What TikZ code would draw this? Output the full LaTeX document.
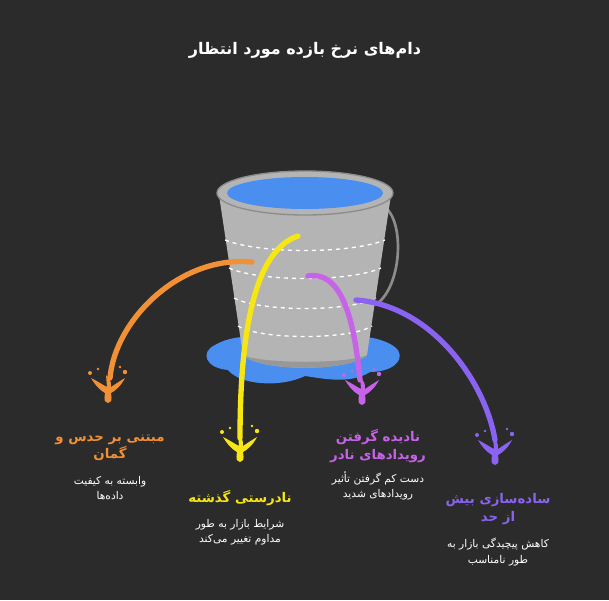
\documentclass[tikz,border=0pt]{standalone}
\usepackage{fontspec}
\TeXXeTstate=1
\newfontfamily\arabicfont[Script=Arabic]{DejaVu Sans}
\definecolor{bg}{HTML}{2B2B2B}
\definecolor{wblue}{HTML}{4A8FF0}
\definecolor{bgray}{HTML}{B4B4B4}
\definecolor{bdark}{HTML}{8C8C8C}
\definecolor{corange}{HTML}{F29035}
\definecolor{cyellow}{HTML}{F5E614}
\definecolor{cmag}{HTML}{C763E8}
\definecolor{cviol}{HTML}{8A63F2}
\tikzset{
 ttl/.style={text=white,font=\arabicfont\bfseries\fontsize{12}{14}\selectfont,align=center},
 head/.style={font=\arabicfont\bfseries\fontsize{10}{13}\selectfont,align=center},
 desc/.style={text=white,font=\arabicfont\fontsize{8}{11.5}\selectfont,align=center},
 stream/.style={line width=4pt,line cap=round},
 splash/.pic={
  \fill (-3,0) .. controls (-10,-4) and (-14,-10) .. (-17,-15) .. controls (-9,-11) and (-5,-8) .. (-1,-6)
   .. controls (-1,-12) .. (-2,-18) .. controls (3,-12) .. (3,-6) .. controls (9,-10) and (12,-12) .. (17,-15)
   .. controls (13,-7) and (7,-2) .. (3,0) .. controls (4,8) .. (0,10) .. controls (-4,8) .. (-3,0) -- cycle;
  \fill (-18,-20) circle (2); \fill (17,-21) circle (2.2); \fill (12,-26) circle (1.3); \fill (-10,-24) circle (1.3);
 }
}
\begin{document}
\begin{tikzpicture}[x=0.75pt,y=-0.75pt]
\useasboundingbox (0,0) rectangle (609,600);
\fill[bg] (0,0) rectangle (609,600);
\node[ttl] (title) at (305,50) {\beginR دام‌های نرخ بازده مورد انتظار\endR};
% puddle
\fill[wblue] (215,345) .. controls (240,330) and (280,338) .. (305,345) .. controls (340,330) and (385,335) .. (398,350)
 .. controls (405,362) and (390,372) .. (370,372) .. controls (350,385) and (320,378) .. (305,376)
 .. controls (280,388) and (240,385) .. (228,370) .. controls (205,368) and (200,352) .. (215,345) -- cycle;
% handle
\draw[bdark,line width=2pt] (388,210) .. controls (405,230) and (400,290) .. (375,305);
% body
\fill[bgray] (219,195) -- (243,355) .. controls (260,372) and (350,372) .. (367,355) -- (391,195) -- cycle;
\fill[bdark!70!bgray] (243,355) .. controls (260,372) and (350,372) .. (367,355) .. controls (350,364) and (260,364) .. (243,355);
\foreach \y/\a/\b in {240/225/385,268/229/381,298/234/376,326/238/372}{
 \draw[white,dashed,line width=1pt] (\a,\y) .. controls (260,\y+14) and (350,\y+14) .. (\b,\y);
}
% rim
\fill[bgray] (305,193) ellipse (88 and 22);
\draw[bdark,line width=1pt] (305,193) ellipse (88 and 22);
\fill[wblue] (305,193) ellipse (78 and 16);
% streams
\draw[stream,corange] (252,262) .. controls (180,255) and (115,320) .. (110,378);
\draw[stream,cyellow] (298,236) .. controls (255,250) and (240,330) .. (240,438);
\draw[stream,cmag] (308,276) .. controls (345,270) and (355,330) .. (360,380);
\draw[stream,cviol] (356,300) .. controls (430,305) and (485,380) .. (495,440);
\pic[corange] at (108,393) {splash};
\pic[cyellow] at (240,452) {splash};
\pic[cmag] at (362,395) {splash};
\pic[cviol] at (495,455) {splash};
% labels
\node[head,text=corange] (h1) at (110,448) {\beginR مبتنی بر حدس و\endR\\\beginR گمان\endR};
\node[desc] (d1) at (110,488) {\beginR وابسته به کیفیت\endR\\\beginR داده‌ها\endR};
\node[head,text=cyellow] (h2) at (240,498) {\beginR نادرستی گذشته\endR};
\node[desc] (d2) at (240,532) {\beginR شرایط بازار به طور\endR\\\beginR مداوم تغییر می‌کند\endR};
\node[head,text=cmag] (h3) at (378,446) {\beginR نادیده گرفتن\endR\\\beginR رویدادهای نادر\endR};
\node[desc] (d3) at (378,486) {\beginR دست کم گرفتن تأثیر\endR\\\beginR رویدادهای شدید\endR};
\node[head,text=cviol] (h4) at (498,509) {\beginR ساده‌سازی بیش\endR\\\beginR از حد\endR};
\node[desc] (d4) at (498,552) {\beginR کاهش پیچیدگی بازار به\endR\\\beginR طور نامناسب\endR};
\end{tikzpicture}
\end{document}
